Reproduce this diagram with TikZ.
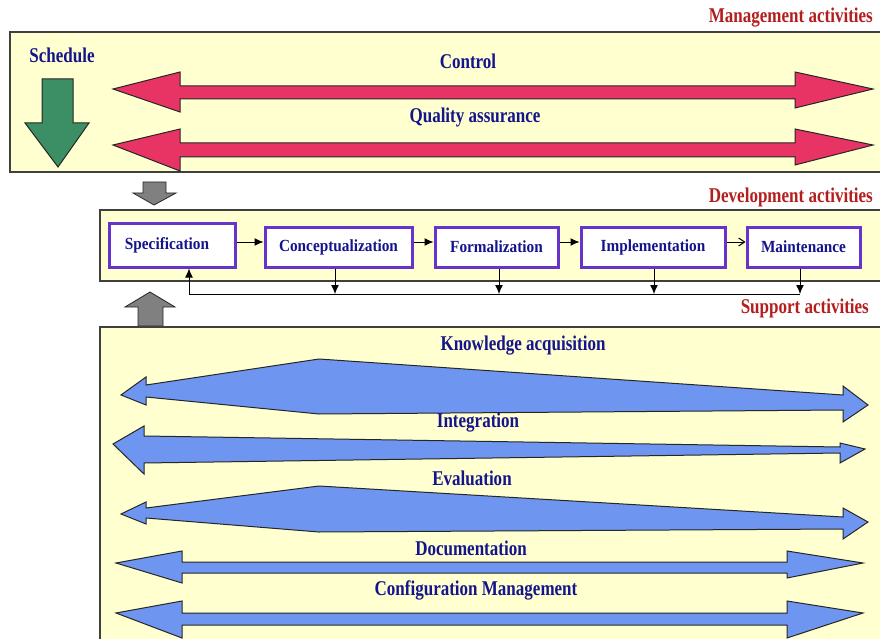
\documentclass[tikz,border=0pt]{standalone}
\usepackage{fontspec}
\setmainfont{Liberation Serif}
\newfontfamily\condfont[FakeStretch=0.81]{Liberation Serif}
\newfontfamily\nodefont[FakeStretch=0.9]{Liberation Serif}
\usetikzlibrary{arrows.meta}
\definecolor{panel}{RGB}{255,255,208}
\definecolor{redarrow}{RGB}{232,52,100}
\definecolor{greenarrow}{RGB}{60,142,100}
\definecolor{bluearrow}{RGB}{110,150,240}
\definecolor{grayarrow}{RGB}{128,128,128}
\definecolor{boxborder}{RGB}{102,51,204}
\definecolor{labelblue}{RGB}{20,20,140}
\definecolor{labelred}{RGB}{180,30,30}
\tikzset{
  panelbox/.style={draw=black!75, line width=1.3pt, fill=panel},
  bigarrow/.style={draw=black!85, line width=1pt, line join=miter},
  title/.style={text=labelblue, font=\condfont\bfseries\fontsize{21}{21}\selectfont, inner sep=0pt},
  section/.style={text=labelred, font=\condfont\bfseries\fontsize{21}{21}\selectfont, inner sep=0pt, anchor=east},
  stage/.style={draw=boxborder, line width=3pt, fill=white, text=labelblue,
    font=\nodefont\bfseries\fontsize{17}{17}\selectfont, inner sep=0pt, minimum height=40pt},
  flow/.style={black, line width=1pt, -{Latex[length=9pt,width=8pt]}},
}
\begin{document}
\begin{tikzpicture}[x=1pt,y=-1pt]
\useasboundingbox (0,0) rectangle (880,639);
\fill[white] (0,0) rectangle (880,639);

% ---------- Management panel ----------
\draw[panelbox] (10,32) rectangle (890,172);
\node[section] (mgmt) at (873,18) {Management activities};
\node[title] (sched) at (62,55) {Schedule};
\filldraw[bigarrow, fill=greenarrow] (42,79) -- (73,79) -- (73,123) -- (89,123) -- (58,167) -- (25,123) -- (42,123) -- cycle;
\node[title] (ctrl) at (468,61) {Control};
\filldraw[bigarrow, fill=redarrow] (113,89) -- (180,72) -- (180,86) -- (795,86) -- (795,72) -- (873,89) -- (795,108) -- (795,99) -- (180,99) -- (180,112) -- cycle;
\node[title] (qa) at (475,117) {Quality assurance};
\filldraw[bigarrow, fill=redarrow] (113,145) -- (180,129) -- (180,143) -- (795,143) -- (795,129) -- (873,145) -- (795,165) -- (795,157) -- (180,157) -- (180,171) -- cycle;

% ---------- gray arrows ----------
\filldraw[bigarrow, fill=grayarrow, line width=0.8pt] (143,182) -- (166,182) -- (166,193) -- (176,193) -- (154,205) -- (133,193) -- (143,193) -- cycle;

% ---------- Development panel ----------
\draw[panelbox] (100,210) rectangle (890,281);
\node[section] (dev) at (873,197) {Development activities};
\node[stage, minimum width=126pt, minimum height=44pt] (spec) at (172,245) {Specification\hspace*{10pt}};
\node[stage, minimum width=147pt] (conc) at (338.5,247) {Conceptualization};
\node[stage, minimum width=123pt] (form) at (496.5,247) {Formalization};
\node[stage, minimum width=144pt] (impl) at (653,247) {Implementation};
\node[stage, minimum width=113pt] (maint) at (803.5,247) {Maintenance};
\draw[flow] (spec.east |- 0,242) -- (conc.west |- 0,242);
\draw[flow] (conc.east |- 0,242) -- (form.west |- 0,242);
\draw[flow] (form.east |- 0,242) -- (impl.west |- 0,242);
\draw[black, line width=1pt, -{Straight Barb[length=6pt,width=8pt]}] (impl.east |- 0,242) -- (maint.west |- 0,242);
\coordinate (fbl) at (189,294);
\coordinate (fbr) at (800,294);
\draw[black, line width=1pt] (fbl) -- (fbr);
\draw[flow] (conc.south -| 335,0) -- (335,294);
\draw[flow] (form.south -| 499,0) -- (499,294);
\draw[flow] (impl.south -| 654,0) -- (654,294);
\draw[flow] (maint.south -| 800,0) -- (fbr);
\draw[flow] (fbl) -- (spec.south -| fbl);

\node[section] (sup) at (869,308) {Support activities};
\filldraw[bigarrow, fill=grayarrow, line width=0.8pt] (150,292) -- (175,307) -- (163,307) -- (163,326) -- (138,326) -- (138,307) -- (125,307) -- cycle;

% ---------- Support panel ----------
\draw[panelbox] (100,327) rectangle (890,700);
\node[title] (ka) at (523,346) {Knowledge acquisition};
\filldraw[bigarrow, fill=bluearrow] (121,395) -- (146,377) -- (146,385) -- (319,359) -- (843,395) -- (843,386) -- (868,405) -- (843,422) -- (843,410) -- (319,414) -- (146,397) -- (146,405) -- cycle;
\node[title] (integ) at (478,423) {Integration};
\filldraw[bigarrow, fill=bluearrow] (113,444) -- (144,426) -- (144,436) -- (840,447) -- (840,443) -- (865,449) -- (840,463) -- (840,453) -- (144,463) -- (144,474) -- cycle;
\node[title] (eval) at (472,478) {Evaluation};
\filldraw[bigarrow, fill=bluearrow] (121,514) -- (146,502) -- (146,508) -- (319,486) -- (843,517) -- (843,508) -- (868,522) -- (843,539) -- (843,529) -- (319,532) -- (146,518) -- (146,524) -- cycle;
\node[title] (doc) at (471,548) {Documentation};
\filldraw[bigarrow, fill=bluearrow] (116,563) -- (182,551) -- (182,562) -- (787,562) -- (787,551) -- (863,563) -- (787,578) -- (787,573) -- (182,573) -- (182,583) -- cycle;
\node[title] (cfg) at (476,590) {Configuration Management};
\filldraw[bigarrow, fill=bluearrow] (116,613) -- (182,601) -- (182,613) -- (787,613) -- (787,601) -- (863,613) -- (787,638) -- (787,625) -- (182,625) -- (182,638) -- cycle;
\end{tikzpicture}
\end{document}
